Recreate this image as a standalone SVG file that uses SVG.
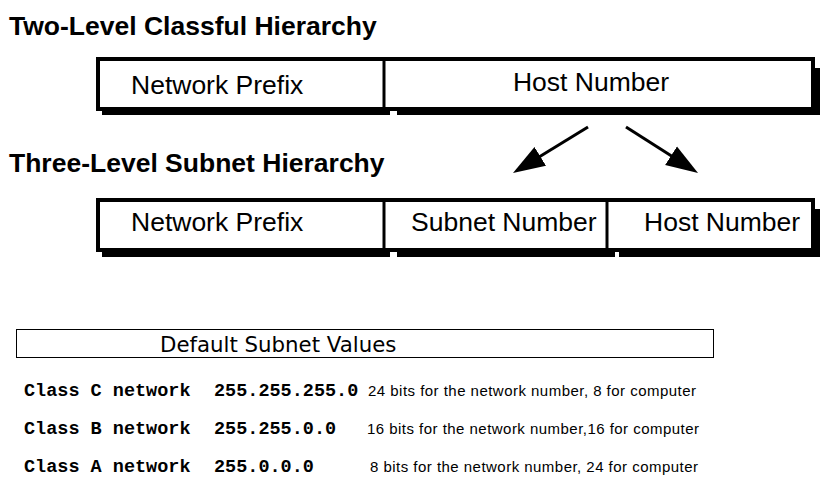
<svg xmlns="http://www.w3.org/2000/svg" width="828" height="503" viewBox="0 0 828 503">
<style>
.title{font-family:"Liberation Sans",Arial,sans-serif;font-weight:bold;font-size:26.5px;fill:#000}
.lbl{font-family:"Liberation Sans",Arial,sans-serif;font-size:26.5px;fill:#000}
.cell{fill:#fff;stroke:#000;stroke-width:4}
.shadow{fill:#000}
.div{stroke:#000;stroke-width:3}
.hdr{font-family:"DejaVu Sans",Verdana,sans-serif;font-size:21.3px;fill:#000}
.mono{font-family:"Liberation Mono","Courier New",monospace;font-weight:bold;font-size:18.5px;fill:#000}
.desc{font-family:"Liberation Sans",Arial,sans-serif;font-size:15px;fill:#000}
.arrow{stroke:#000;stroke-width:3;fill:none}
</style>
<defs>
<marker id="ah" viewBox="0 0 32 24" refX="22" refY="12" markerWidth="32" markerHeight="24" markerUnits="userSpaceOnUse" orient="auto">
<path d="M0,1 L32,12 L0,23 Z" fill="#000"/>
</marker>
</defs>
<rect width="828" height="503" fill="#fff"/>
<text class="title" x="9" y="35">Two-Level Classful Hierarchy</text>
<text class="title" x="9" y="172">Three-Level Subnet Hierarchy</text>
<g id="two-level">
<rect class="shadow" x="102" y="68" width="718" height="47"/>
<rect x="390" y="111" width="7" height="4" fill="#fff"/>
<rect class="cell" x="98" y="59" width="715" height="50"/>
<line class="div" x1="384" y1="59" x2="384" y2="109"/>
<g id="tl-network"><text class="lbl" x="131" y="94">Network Prefix</text></g>
<g id="tl-host"><text class="lbl" x="591" y="91" text-anchor="middle">Host Number</text></g>
</g>
<g id="three-level">
<rect class="shadow" x="102" y="209" width="718" height="48"/>
<rect x="390" y="252" width="7" height="5" fill="#fff"/>
<rect x="615" y="252" width="4" height="5" fill="#fff"/>
<rect class="cell" x="98" y="200" width="715" height="50"/>
<line class="div" x1="384" y1="200" x2="384" y2="250"/>
<line class="div" x1="607" y1="200" x2="607" y2="250"/>
<g id="th-network"><text class="lbl" x="131" y="231">Network Prefix</text></g>
<g id="th-subnet"><text class="lbl" x="411" y="231">Subnet Number</text></g>
<g id="th-host"><text class="lbl" x="644" y="231">Host Number</text></g>
</g>
<g id="connectors">
<line class="arrow" x1="588" y1="127" x2="521.5" y2="167.8" marker-end="url(#ah)"/>
<line class="arrow" x1="626" y1="127" x2="689.6" y2="167.6" marker-end="url(#ah)"/>
</g>
<g id="table">
<rect x="16.5" y="329.5" width="697" height="28" fill="none" stroke="#000" stroke-width="1"/>
<text class="hdr" x="160" y="352">Default Subnet Values</text>
<text class="mono" x="24" y="396">Class C network</text>
<text class="mono" x="214" y="396">255.255.255.0</text>
<text class="desc" x="368" y="396" textLength="328" lengthAdjust="spacing">24 bits for the network number, 8 for computer</text>
<text class="mono" x="24" y="434">Class B network</text>
<text class="mono" x="214" y="434">255.255.0.0</text>
<text class="desc" x="367" y="434" textLength="332" lengthAdjust="spacing">16 bits for the network number,16 for computer</text>
<text class="mono" x="24" y="472">Class A network</text>
<text class="mono" x="214" y="472">255.0.0.0</text>
<text class="desc" x="370" y="472" textLength="328" lengthAdjust="spacing">8 bits for the network number, 24 for computer</text>
</g>
</svg>
